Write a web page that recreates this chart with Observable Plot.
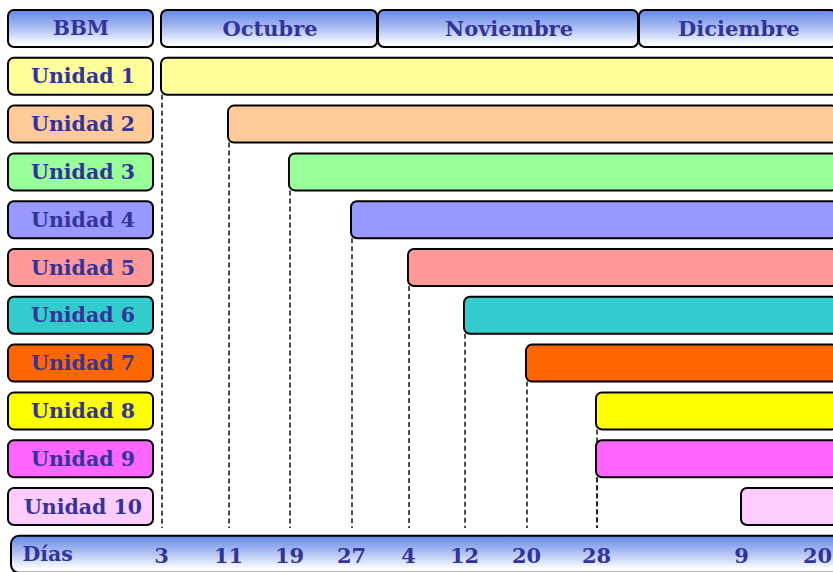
<!DOCTYPE html>
<html>
<head>
<meta charset="utf-8">
<script src="https://cdn.jsdelivr.net/npm/d3@7"></script>
<script src="https://cdn.jsdelivr.net/npm/@observablehq/plot@0.6"></script>
<style>
  html, body { margin: 0; padding: 0; background: #fff; overflow: hidden; }
  #chart svg { overflow: hidden; display: block; }
</style>
</head>
<body>
<div id="chart"></div>
<script>
// ---- data ----
const units = ["Unidad 1", "Unidad 2", "Unidad 3", "Unidad 4", "Unidad 5",
               "Unidad 6", "Unidad 7", "Unidad 8", "Unidad 9", "Unidad 10"];
const unitStarts = ["10-03", "10-11", "10-19", "10-27", "11-04",
                    "11-12", "11-20", "11-28", "11-28", "12-09"];
const unitColors = ["#FFFF99", "#FFCC99", "#99FF99", "#9999FF", "#FF9999",
                    "#33CCCC", "#FF6600", "#FFFF00", "#FF66FF", "#FFCCFF"];
const months = ["Octubre", "Noviembre", "Diciembre"];
const monthStarts = ["10-03", "11-01", "12-01"];
const monthEnds = ["11-01", "12-01", "12-23"];
const tickDates = ["10-03", "10-11", "10-19", "10-27", "11-04", "11-12", "11-20", "11-28", "12-09", "12-20"];
const tickLabels = ["3", "11", "19", "27", "4", "12", "20", "28", "9", "20"];
const headerLabel = "BBM";
const axisLabel = "Días";
const periodEnd = "12-23";

// day index counted from 1 October
const monthOffset = {"10": 0, "11": 31, "12": 61};
const dayIndex = (md) => { const [m, d] = md.split("-"); return monthOffset[m] + (+d); };

// hand-drawn (non-uniform) time axis: piecewise scale anchors
const labelColStart = -16, labelColEnd = 2;
const anchorDays = [labelColStart, labelColEnd, 3, 11, 19, 27, 32, 35, 43, 51, 59, 62, 70, 81];
const anchorPx   = [8, 153, 161, 228, 289, 351, 378, 408, 464, 526, 596, 639, 741, 817];

const rows = [headerLabel, ...units, axisLabel];
const xScaleOpts = {type: "linear", domain: anchorDays, range: anchorPx};
const xs = Plot.scale({x: xScaleOpts});
const mid = (a, b) => xs.invert((xs.apply(a) + xs.apply(b)) / 2);

const unitData = units.map((u, i) => ({unit: u, start: dayIndex(unitStarts[i]), color: unitColors[i]}));
const monthData = months.map((m, i) => ({month: m, start: dayIndex(monthStarts[i]), end: dayIndex(monthEnds[i])}));
const tickData = tickDates.map((t, i) => ({day: dayIndex(t), label: tickLabels[i]}));
const endDay = dayIndex(periodEnd);
const labelMid = mid(labelColStart, labelColEnd);
const lastUnit = units[units.length - 1];

const textColor = "#333399";
const font = "DejaVu Serif";

const plot = Plot.plot({
  width: 833,
  height: 572,
  marginLeft: 0, marginRight: 0, marginTop: 0, marginBottom: 0,
  style: {fontFamily: font, background: "white", overflow: "hidden"},
  x: {...xScaleOpts, axis: null},
  y: {type: "band", domain: rows, range: [10, 572.8], paddingInner: 0.226, paddingOuter: 0, round: false, axis: null},
  color: {type: "identity"},
  marks: [
    // dashed guide lines from each bar start down to the last row
    Plot.ruleX(unitData.slice(0, -1), {
      x: "start", y1: "unit", y2: () => lastUnit,
      insetTop: 37, insetBottom: -3, dx: 0.5,
      stroke: "#222", strokeWidth: 1.6, strokeDasharray: "5,3"
    }),
    // unit bars
    Plot.barX(unitData, {
      x1: "start", x2: endDay, y: "unit", fill: "color",
      stroke: "#000", strokeWidth: 2, rx: 6, clip: true
    }),
    // label column boxes
    Plot.barX(unitData, {
      x1: labelColStart, x2: labelColEnd, y: "unit", fill: "color",
      stroke: "#000", strokeWidth: 2, rx: 6
    }),
    // header boxes
    Plot.barX([headerLabel], {
      x1: labelColStart, x2: labelColEnd, y: () => headerLabel,
      fill: "url(#hdrGrad)", stroke: "#000", strokeWidth: 2, rx: 6
    }),
    Plot.barX(monthData, {
      x1: "start", x2: "end", y: () => headerLabel, insetRight: 1,
      fill: "url(#hdrGrad)", stroke: "#000", strokeWidth: 2, rx: 6, clip: true
    }),
    // axis box
    Plot.barX([axisLabel], {
      x1: labelColStart, x2: endDay, y: () => axisLabel, dx: 3,
      fill: "url(#axGrad)", stroke: "#000", strokeWidth: 2, rx: 8, clip: true
    }),
    // texts
    Plot.text(unitData, {
      x: labelMid, y: "unit", text: "unit", fill: textColor, dx: 2,
      fontSize: 20.5, fontWeight: "bold"
    }),
    Plot.text([headerLabel], {
      x: labelMid, y: () => headerLabel, text: (d) => d, fill: textColor,
      fontSize: 20, fontWeight: "bold"
    }),
    Plot.text(monthData, {
      x: (d) => mid(d.start, d.end), y: () => headerLabel, text: "month", fill: textColor,
      fontSize: 21, fontWeight: "bold"
    }),
    Plot.text([axisLabel], {
      x: labelColStart, dx: 14, y: () => axisLabel, text: (d) => d, textAnchor: "start",
      fill: textColor, fontSize: 20.5, fontWeight: "bold"
    }),
    Plot.text(tickData, {
      x: "day", y: () => axisLabel, text: "label", fill: textColor, dy: 1,
      fontSize: 21, fontWeight: "bold"
    })
  ]
});

d3.select(plot).insert("defs", ":first-child").html(`
  <linearGradient id="hdrGrad" x1="0" y1="0" x2="0" y2="1">
    <stop offset="0" stop-color="#6286E8"/>
    <stop offset="0.5" stop-color="#AFC1F3"/>
    <stop offset="0.95" stop-color="#FFFFFF"/>
  </linearGradient>
  <linearGradient id="axGrad" x1="0" y1="0" x2="0" y2="1">
    <stop offset="0" stop-color="#6286E8"/>
    <stop offset="0.45" stop-color="#AFC1F3"/>
    <stop offset="0.9" stop-color="#FFFFFF"/>
  </linearGradient>
`);

document.getElementById("chart").append(plot);
</script>
</body>
</html>
